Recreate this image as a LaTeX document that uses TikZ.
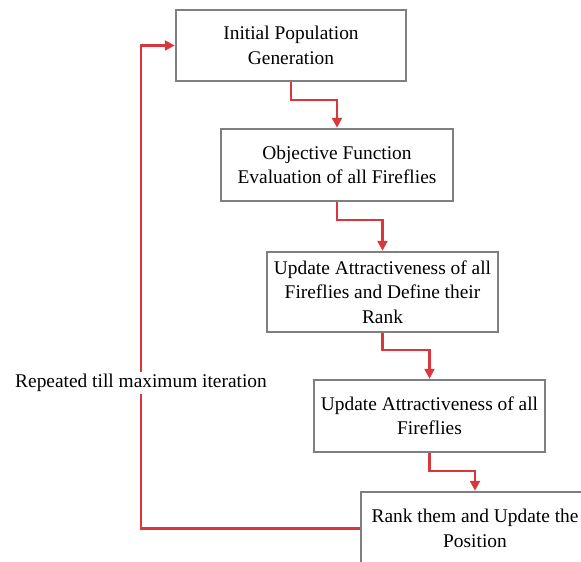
\documentclass[tikz,border=0pt]{standalone}
\usepackage{fontspec}
\setmainfont{Liberation Serif}
\usetikzlibrary{arrows.meta}
\definecolor{boxgray}{HTML}{7F7F7F}
\definecolor{flowred}{HTML}{D9373B}
\tikzset{
  stepbox/.style={draw=boxgray, line width=2.5pt, fill=white, align=center,
    inner sep=0pt, font=\fontsize{19.4}{24.5}\selectfont},
  flow/.style={draw=flowred, line width=2.4pt, -{Triangle[length=10pt,width=10pt]}},
  lbl/.style={fill=white, inner sep=2pt, font=\fontsize{19.4}{24.5}\selectfont}
}
\begin{document}
\begin{tikzpicture}[x=1pt,y=-1pt]
\useasboundingbox (0,0) rectangle (581,562);
\clip (0,0) rectangle (581,562);
\node[stepbox, minimum width=230pt, minimum height=71pt] (b1) at (291,45.5) {Initial Population\\Generation};
\node[stepbox, minimum width=232pt, minimum height=72pt] (b2) at (337,165) {Objective Function\\Evaluation of all Fireflies};
\node[stepbox, minimum width=231pt, minimum height=80pt] (b3) at (382.5,292) {Update Attractiveness of all\\Fireflies and Define their\\Rank};
\node[stepbox, minimum width=231pt, minimum height=72pt] (b4) at (429.5,416) {Update Attractiveness of all\\Fireflies};
\node[stepbox, minimum width=228pt, minimum height=73pt] (b5) at (475,528.5) {Rank them and Update the\\Position};
\draw[flow] (b1.south) -- ++(0,18) -| (b2.north);
\draw[flow] (b2.south) -- ++(0,18) -| (b3.north);
\draw[flow] (b3.south) -- ++(0,17) -| (b4.north);
\draw[flow] (b4.south) -- ++(0,18) -| (b5.north);
\coordinate (loop) at (141,528.5);
\draw[flow] (b5.west) -- (loop) |- (b1.west);
\node[lbl] (rep) at (141,383) {Repeated till maximum iteration};
\end{tikzpicture}
\end{document}
